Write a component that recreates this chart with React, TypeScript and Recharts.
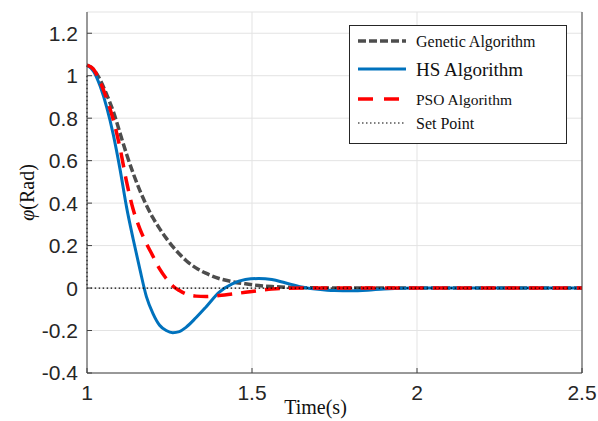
import { CartesianGrid, Line, LineChart, XAxis, YAxis } from "recharts";

const times = [
  1.0, 1.02, 1.04, 1.06, 1.08, 1.1, 1.12, 1.14, 1.16, 1.18, 1.2, 1.22, 1.24, 1.26, 1.28, 1.3, 1.33, 1.36,
  1.4, 1.44, 1.48, 1.52, 1.56, 1.6, 1.65, 1.7, 1.75, 1.8, 1.85, 1.9, 2.0, 2.1, 2.2, 2.3, 2.4, 2.5,
];
const gaValues = [
  1.05, 1.03, 0.98, 0.91, 0.83, 0.73, 0.63, 0.54, 0.46, 0.39, 0.33, 0.28, 0.235, 0.195, 0.16, 0.13, 0.095, 0.07,
  0.045, 0.03, 0.02, 0.012, 0.007, 0.004, 0.002, 0.001, 0, 0, 0, 0, 0, 0, 0, 0, 0, 0,
];
const hsValues = [
  1.05, 1.02, 0.95, 0.85, 0.72, 0.56, 0.38, 0.23, 0.09, -0.04, -0.12, -0.175, -0.2, -0.21, -0.205, -0.185, -0.14,
  -0.09, -0.02, 0.02, 0.04, 0.045, 0.04, 0.025, 0.005, -0.006, -0.012, -0.013, -0.01, -0.004, 0, 0, 0, 0, 0, 0,
];
const psoValues = [
  1.05, 1.03, 0.97, 0.89, 0.79, 0.66, 0.5, 0.37, 0.28, 0.21, 0.15, 0.09, 0.045, 0.01, -0.012, -0.028, -0.038,
  -0.04, -0.035, -0.028, -0.02, -0.012, -0.005, -0.001, 0, 0, 0, 0, 0, 0, 0, 0, 0, 0, 0, 0,
];
const setPointTimes = [1.0, 1.0, 2.5];
const setPointValues = [1.0, 0, 0];

const xTicks = [1, 1.5, 2, 2.5];
const yTicks = [-0.4, -0.2, 0, 0.2, 0.4, 0.6, 0.8, 1, 1.2];

const data = times.map((t, i) => ({ t, ga: gaValues[i], hs: hsValues[i], pso: psoValues[i] }));
const setPointData = setPointTimes.map((t, i) => ({ t, sp: setPointValues[i] }));

const AXIS = "#404040";
const TICK_FONT = { fontFamily: "'Liberation Sans', Arial, sans-serif", fontSize: 21, fill: "#262626" };

const legendItems = [
  { label: "Genetic Algorithm", color: "#4d4d4d", width: 3.5, dash: "8 3", size: 16 },
  { label: "HS Algorithm", color: "#0072BD", width: 3, dash: undefined, size: 19 },
  { label: "PSO Algorithm", color: "#ff0000", width: 3.5, dash: "15 11", size: 15.5 },
  { label: "Set Point", color: "#000000", width: 1.2, dash: "1.5 2.5", size: 16 },
];
const legendRows = [40, 68, 98, 122];

function ChartLegend() {
  return (
    <div
      style={{
        position: "absolute",
        left: 349,
        top: 25,
        width: 216,
        height: 117,
        border: "1px solid #262626",
        background: "#fff",
      }}
    >
      <svg width={216} height={117}>
        {legendItems.map((item, i) => {
          const y = legendRows[i] - 25;
          return (
            <g key={item.label}>
              <line
                x1={8}
                x2={56}
                y1={y}
                y2={y}
                stroke={item.color}
                strokeWidth={item.width}
                strokeDasharray={item.dash}
              />
              <text
                x={66}
                y={y}
                dominantBaseline="central"
                style={{ fontFamily: "'Liberation Serif', 'Times New Roman', serif", fontSize: item.size, fill: "#111" }}
              >
                {item.label}
              </text>
            </g>
          );
        })}
      </svg>
    </div>
  );
}

export default function App() {
  return (
    <div style={{ position: "absolute", left: 0, top: 0, width: 598, height: 421, background: "#fff" }}>
      <LineChart width={598} height={421} data={data} margin={{ top: 12, right: 0, bottom: 18, left: 0 }}>
        <CartesianGrid stroke="#e3e3e3" strokeWidth={1} />
        <XAxis
          dataKey="t"
          type="number"
          domain={[1, 2.5]}
          ticks={xTicks}
          height={30}
          stroke={AXIS}
          tickSize={-5}
          tickMargin={17}
          tick={TICK_FONT}
          interval={0}
          label={{
            content: ({ viewBox }: any) => (
              <text
                x={viewBox.x + viewBox.width / 2 - 19}
                y={viewBox.y + 41}
                textAnchor="middle"
                style={{ fontFamily: "'Liberation Serif', 'Times New Roman', serif", fontSize: 20, fill: "#111" }}
              >
                Time(s)
              </text>
            ),
          }}
        />
        <XAxis
          xAxisId="top"
          dataKey="t"
          type="number"
          orientation="top"
          domain={[1, 2.5]}
          ticks={xTicks}
          height={0}
          stroke={AXIS}
          tickSize={-5}
          tick={false}
          interval={0}
        />
        <YAxis
          type="number"
          domain={[-0.4, 1.3]}
          ticks={yTicks}
          width={87}
          stroke={AXIS}
          tickSize={-5}
          tickMargin={14}
          tick={TICK_FONT}
          interval={0}
          allowDataOverflow
          label={{
            content: ({ viewBox }: any) => {
              const cy = viewBox.y + viewBox.height / 2;
              return (
                <text
                  x={27}
                  y={cy}
                  transform={`rotate(-90 27 ${cy})`}
                  textAnchor="middle"
                  dominantBaseline="central"
                  style={{ fontFamily: "'Liberation Serif', 'Times New Roman', serif", fontSize: 20, fill: "#111" }}
                >
                  <tspan fontStyle="italic">φ</tspan>
                  <tspan>(Rad)</tspan>
                </text>
              );
            },
          }}
        />
        <YAxis
          yAxisId="right"
          orientation="right"
          type="number"
          domain={[-0.4, 1.3]}
          ticks={yTicks}
          width={16}
          stroke={AXIS}
          tickSize={-5}
          tick={false}
          interval={0}
          allowDataOverflow
        />
        <Line
          dataKey="ga"
          type="monotone"
          stroke="#4d4d4d"
          strokeWidth={3.5}
          strokeDasharray="8 3"
          dot={false}
          isAnimationActive={false}
        />
        <Line dataKey="hs" type="monotone" stroke="#0072BD" strokeWidth={3} dot={false} isAnimationActive={false} />
        <Line
          dataKey="pso"
          type="monotone"
          stroke="#ff0000"
          strokeWidth={3.5}
          strokeDasharray="15 9"
          dot={false}
          isAnimationActive={false}
        />
        <Line
          data={setPointData}
          xAxisId="top"
          yAxisId="right"
          dataKey="sp"
          type="linear"
          stroke="#000"
          strokeWidth={1.2}
          strokeDasharray="1.5 2.5"
          dot={false}
          isAnimationActive={false}
        />
      </LineChart>
      <ChartLegend />
    </div>
  );
}
